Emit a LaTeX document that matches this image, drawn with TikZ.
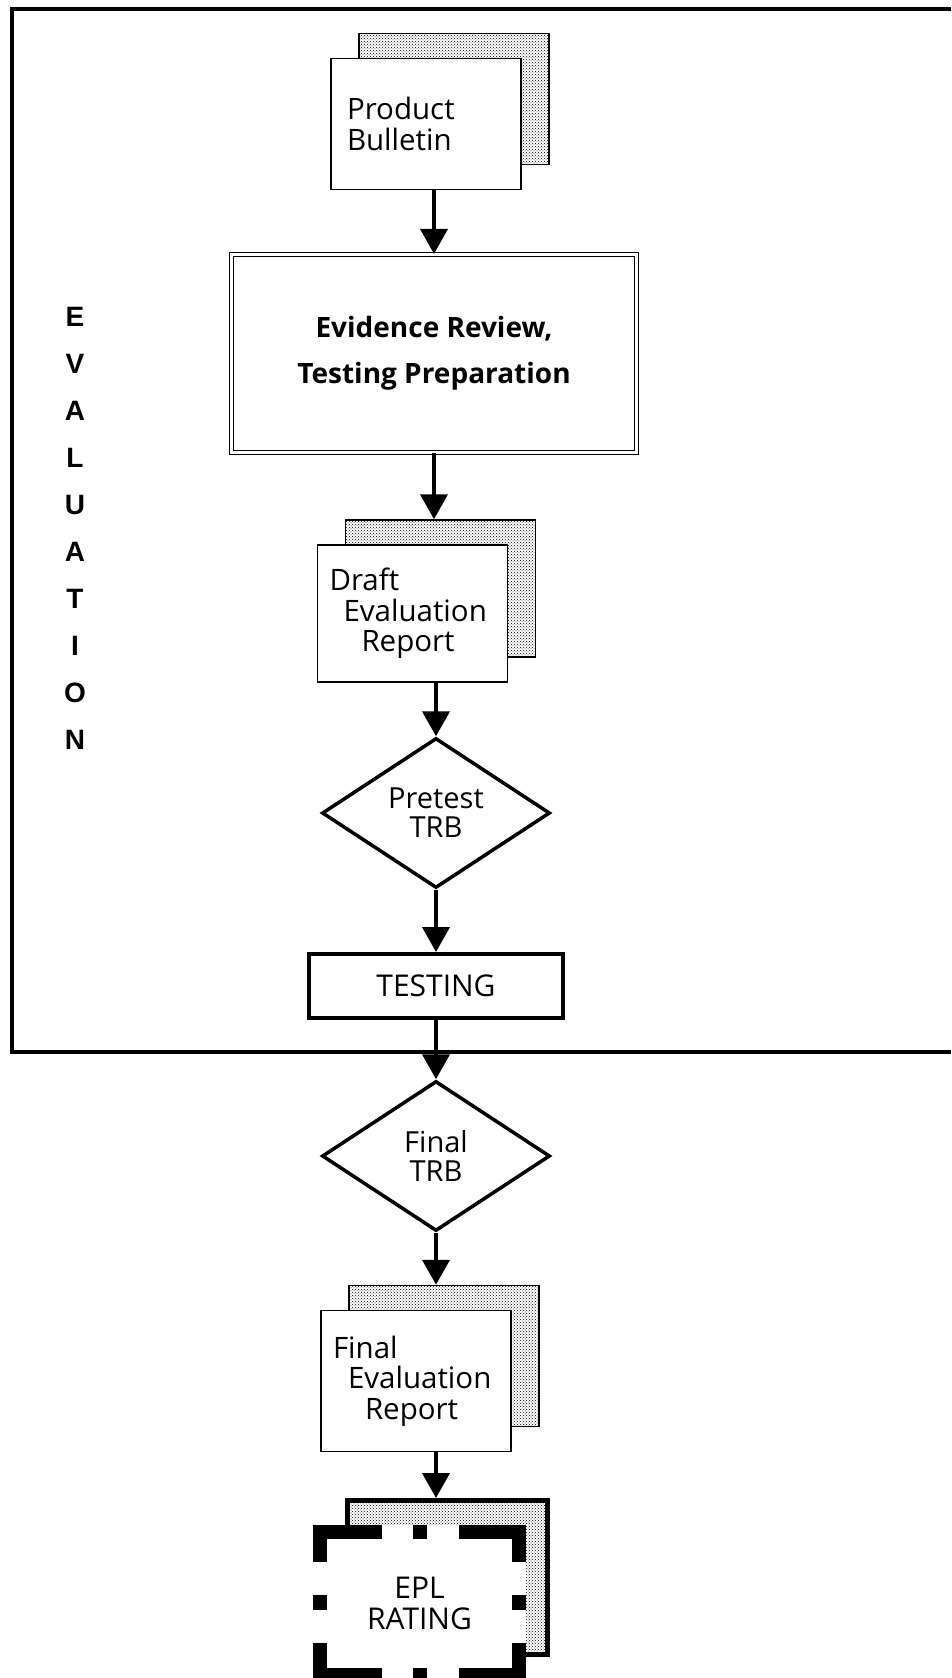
\documentclass[tikz,border=0pt]{standalone}
\usepackage{fontspec}
\setmainfont{Open Sans}
\newfontfamily\sidefont{Liberation Sans}
\usetikzlibrary{positioning,shapes.geometric,arrows.meta,shadows,patterns}

\tikzset{
  doc/.style={rectangle, draw, line width=1.5pt, fill=white, inner xsep=12pt,
    text width=166pt, align=left, minimum height=137pt,
    font=\fontsize{29.5}{30.5}\selectfont,
    copy shadow={shadow xshift=28pt, shadow yshift=25pt, pattern=crosshatch dots, draw=black, line width=1.5pt}},
  stage/.style={rectangle, draw, double, double distance=3pt, line width=1.2pt,
    minimum width=405pt, minimum height=198pt, align=center,
    font=\bfseries\fontsize{28}{46}\selectfont},
  decision/.style={diamond, draw, line width=3.5pt, minimum width=228pt, minimum height=150pt,
    inner sep=0pt, align=center, font=\fontsize{29}{29}\selectfont},
  task/.style={rectangle, draw, line width=4pt, minimum width=254pt, minimum height=64pt,
    font=\fontsize{30}{30}\selectfont},
  eplshadow/.style={rectangle, draw, line width=5pt, pattern=crosshatch dots, inner sep=0pt,
    minimum width=200pt, minimum height=154pt},
  eplbox/.style={rectangle, fill=white, inner sep=0pt, minimum width=213pt, minimum height=157pt,
    align=center, font=\fontsize{30}{31}\selectfont}
}

\begin{document}
\begin{tikzpicture}[x=1pt,y=-1pt,
    flow/.style={line width=4pt,-{Triangle[length=25pt,width=27pt]}}]
\useasboundingbox (0,0) rectangle (951,1678);

% evaluation frame
\draw[line width=4pt] (951,9) -| (12,1052) -- (951,1052);
\node[font=\sidefont\bfseries\fontsize{28}{47}\selectfont, align=center] (side) at (75,528)
  {E\\V\\A\\L\\U\\A\\T\\I\\O\\N};

% steps
\node[doc, minimum height=131pt] (pb) at (426,124) {\hspace*{4pt}Product\\\hspace*{4pt}Bulletin};
\node[stage] (ev) at (434,353.5) {Evidence Review,\\Testing Preparation};
\node[doc] (dr) at (412.5,613.5) {Draft\\\hspace*{14pt}Evaluation\\\hspace*{32pt}Report};
\node[decision] (pt) at (436,813) {Pretest\\TRB};
\node[task] (ts) at (436,986) {TESTING};
\node[decision] (ft) at (436,1156) {Final\\TRB};
\node[doc, minimum height=141pt] (fr) at (416,1381) {Final\\\hspace*{15pt}Evaluation\\\hspace*{32pt}Report};

% rating box
\node[eplshadow] (eplsh) at (447.5,1577.5) {};
\node[eplbox] (epl) at (419.5,1603.5) {EPL\\RATING};
\foreach \xa/\ya/\xb/\yb in {313/1525/382/1539, 413/1525/427/1539, 459/1525/526/1539,
    313/1668/382/1682, 413/1668/427/1682, 459/1668/526/1682,
    313/1525/327/1562, 313/1595/327/1610, 313/1643/327/1682,
    512/1525/526/1562, 512/1595/526/1610, 512/1643/526/1682}
  \fill (\xa,\ya) rectangle (\xb,\yb);

% arrows
\draw[flow] (pb.south -| ev) -- (ev.north);
\draw[flow] (ev.south) -- ([yshift=25pt]dr.north -| ev.south);
\draw[flow] (dr.south -| pt) -- (pt.north);
\draw[flow] (pt.south) -- (pt.south |- ts.north);
\draw[flow] (ts.south) -- (ft.north);
\draw[flow] (ft.south) -- ([yshift=25pt]fr.north -| ft.south);
\draw[flow] (fr.south -| ts) -- (ts |- eplsh.north);
\end{tikzpicture}
\end{document}
